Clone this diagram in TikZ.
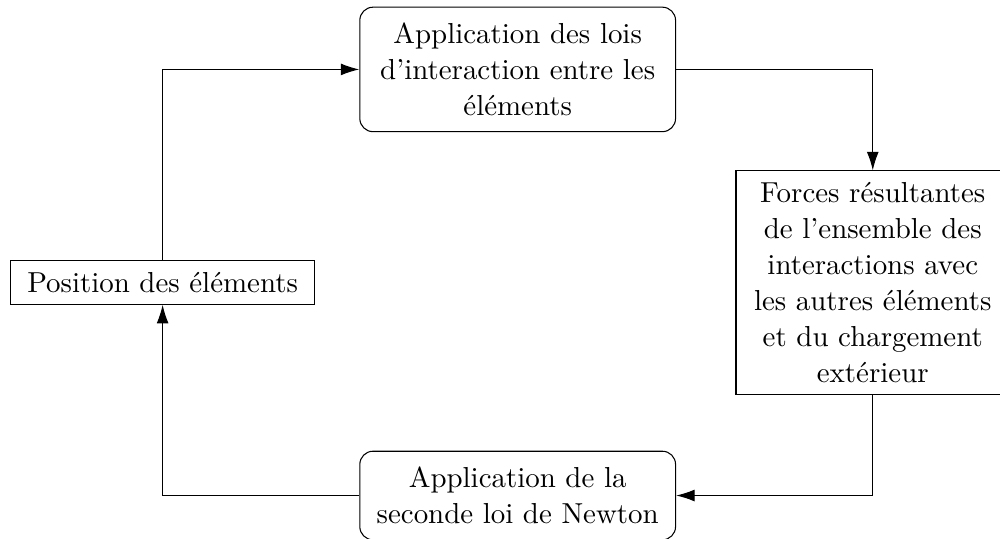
\documentclass[tikz,border=0pt]{standalone}
\usepackage{tikz}
\usetikzlibrary{arrows.meta}

\begin{document}
\begin{tikzpicture}[font={\fontsize{10.95pt}{13.6pt}\selectfont},>={Latex[length=7pt,width=4.5pt]},x=134.5pt,y=80.7pt,
  etape/.style={rectangle,rounded corners=5pt,draw=black,text width=107pt,inner xsep=6.3pt,inner ysep=6pt,align=center},
  bloc/.style={rectangle,draw=black,inner xsep=6.3pt,inner ysep=4.4pt,align=center}]
\useasboundingbox (-61.6pt,107pt) rectangle (317.2pt,-96.8pt);
\node[etape] (lois) at (1,1) {Application des lois\\d'interaction entre les\\éléments};
\node[bloc,text width=91pt] (forces) at (2,0) {Forces résultantes\\de l'ensemble des\\interactions avec\\les autres éléments\\et du chargement\\extérieur};
\node[etape] (newton) at (1,-1) {Application de la\\seconde loi de Newton};
\node[bloc] (position) at (0,0) {Position des éléments};
\draw[->] (position) |- (lois);
\draw[->] (lois) -| (forces);
\draw[->] (forces) |- (newton);
\draw[->] (newton) -| (position);
\end{tikzpicture}
\end{document}
